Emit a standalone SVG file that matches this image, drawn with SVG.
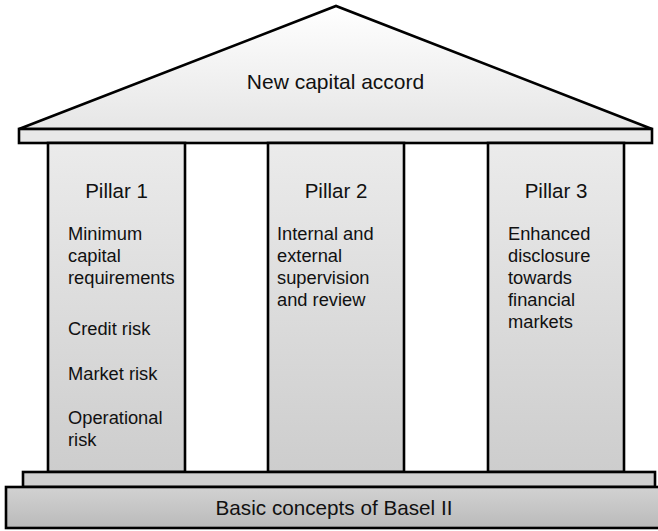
<svg xmlns="http://www.w3.org/2000/svg" width="658" height="531" viewBox="0 0 658 531">
<defs>
<linearGradient id="gPillar" x1="0" y1="0" x2="0" y2="1">
<stop offset="0" stop-color="#ebebeb"/>
<stop offset="1" stop-color="#cdcdcd"/>
</linearGradient>
<linearGradient id="gRoof" x1="0" y1="0" x2="0" y2="1">
<stop offset="0" stop-color="#ffffff"/>
<stop offset="1" stop-color="#e6e6e6"/>
</linearGradient>
<linearGradient id="gBase" x1="0" y1="0" x2="0" y2="1">
<stop offset="0" stop-color="#d2d2d2"/>
<stop offset="1" stop-color="#bababa"/>
</linearGradient>
</defs>
<style>
.s{stroke:#000;stroke-width:2.6;stroke-linejoin:miter}
.t{font-family:"Liberation Sans",Arial,Helvetica,sans-serif;fill:#111}
.title{font-size:20.5px;text-anchor:middle}
.body{font-size:18.3px}
</style>
<g id="roof">
<polygon class="s" points="19,129 336,6 652,129" fill="url(#gRoof)"/>
<text class="t" x="335.5" y="89" font-size="21" text-anchor="middle">New capital accord</text>
</g>
<g id="entablature">
<rect class="s" x="19" y="129" width="633" height="14" fill="#e8e8e8"/>
</g>
<g id="pillar1">
<rect class="s" x="48" y="143" width="137" height="329" fill="url(#gPillar)"/>
<text class="t title" x="116.5" y="198">Pillar 1</text>
<text class="t body" x="68" y="240">Minimum</text>
<text class="t body" x="68" y="262">capital</text>
<text class="t body" x="68" y="284">requirements</text>
<text class="t body" x="68" y="335">Credit risk</text>
<text class="t body" x="68" y="380">Market risk</text>
<text class="t body" x="68" y="424">Operational</text>
<text class="t body" x="68" y="446">risk</text>
</g>
<g id="pillar2">
<rect class="s" x="268" y="143" width="136" height="329" fill="url(#gPillar)"/>
<text class="t title" x="336" y="198">Pillar 2</text>
<text class="t body" x="277" y="240">Internal and</text>
<text class="t body" x="277" y="262">external</text>
<text class="t body" x="277" y="284">supervision</text>
<text class="t body" x="277" y="306">and review</text>
</g>
<g id="pillar3">
<rect class="s" x="488" y="143" width="136" height="329" fill="url(#gPillar)"/>
<text class="t title" x="556" y="198">Pillar 3</text>
<text class="t body" x="508" y="240">Enhanced</text>
<text class="t body" x="508" y="262">disclosure</text>
<text class="t body" x="508" y="284">towards</text>
<text class="t body" x="508" y="306">financial</text>
<text class="t body" x="508" y="328">markets</text>
</g>
<g id="step">
<rect class="s" x="23" y="472" width="632" height="15" fill="#d0d0d0"/>
</g>
<g id="plinth">
<rect class="s" x="6" y="487" width="662" height="41" fill="url(#gBase)"/>
<text class="t" x="334" y="515" font-size="20.7" text-anchor="middle">Basic concepts of Basel II</text>
</g>
<g id="connectors"></g>
</svg>
